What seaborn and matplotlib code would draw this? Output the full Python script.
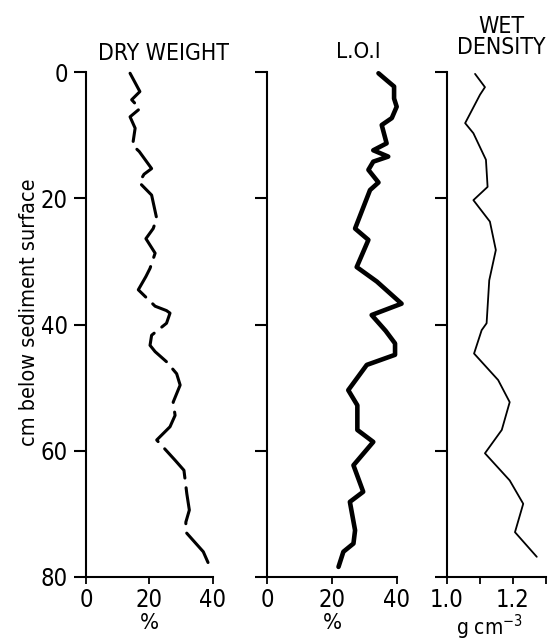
import matplotlib
matplotlib.use("Agg")
import matplotlib.pyplot as plt
import seaborn as sns
import pandas as pd

# ---- data ----
dry_depth = [0.2, 3.1, 4.4, 5.8, 7.1, 8.9, 11.6, 12.6, 15.3, 16.2, 17.5, 19.5, 23.2,
             24.8, 26.4, 28.7, 31.1, 32.4, 34.5, 37.1, 37.8, 38.2, 39.8, 41.7,
             43.3, 44.3, 45.9, 47.8, 49.6, 52.3, 54.4, 56.2, 58.3, 61.5,
             63.1, 66.8, 69.4, 71.3, 72.9, 76.0, 78.4]
dry_pct = [13.9, 17.0, 14.4, 17.0, 13.9, 15.5, 14.7, 16.8, 20.7, 18.3, 16.8, 20.7, 22.3,
           21.2, 18.9, 21.8, 20.2, 18.9, 16.5, 21.8, 25.4, 26.5, 25.4, 20.7,
           20.2, 21.8, 25.4, 28.6, 29.7, 27.5, 28.1, 26.5, 22.3, 28.1,
           30.9, 31.8, 32.6, 31.5, 31.5, 37.0, 39.1]

loi_depth = [0.2, 1.3, 2.3, 4.2, 5.5, 7.3, 8.4, 11.3, 12.4, 13.4, 14.2, 15.5, 17.5,
             18.7, 24.8, 26.6, 30.9, 33.2, 36.7, 38.5, 41.0, 43.0, 44.8, 46.4,
             50.4, 52.8, 56.7, 58.6, 62.3, 66.5, 68.1, 72.6, 74.7, 76.0, 78.4]
loi_pct = [34.3, 36.8, 39.1, 39.1, 39.9, 38.4, 35.3, 36.8, 32.7, 37.3, 32.7, 31.2, 34.3,
           31.7, 27.1, 31.2, 27.6, 33.8, 41.4, 32.2, 36.5, 39.4, 39.4, 30.7,
           25.0, 27.8, 27.8, 32.7, 26.6, 29.6, 25.5, 27.1, 26.6, 23.5, 22.0]

wet_depth = [0.3, 2.4, 3.6, 8.1, 9.7, 13.9, 18.2, 20.3, 23.7, 28.2, 33.0, 39.8,
             40.9, 44.6, 48.8, 52.3, 56.7, 60.4, 64.7, 68.4, 72.9, 76.8]
wet_dens = [1.085, 1.115, 1.100, 1.055, 1.080, 1.118, 1.123, 1.080, 1.130, 1.148, 1.128, 1.120,
            1.105, 1.082, 1.155, 1.190, 1.166, 1.115, 1.190, 1.231, 1.206, 1.272]

depth_ticks = [0, 20, 40, 60, 80]
pct_ticks = [0, 20, 40]
dens_ticks = [1.0, 1.1, 1.2, 1.3]
dens_ticklabels = ["1.0", "", "1.2", ""]

titles = ["DRY WEIGHT", "L.O.I", "WET\nDENSITY"]
units = ["%", "%", r"g cm$^{-3}$"]
ylabel = "cm below sediment surface"

# ---- style ----
sns.set_style("ticks", rc={"text.color": "black", "axes.labelcolor": "black",
                           "xtick.color": "black", "ytick.color": "black",
                           "axes.edgecolor": "black"})
FONT = ["DejaVu Sans", "Liberation Sans"]
plt.rcParams["font.family"] = FONT
plt.rcParams["font.stretch"] = "condensed"
plt.rcParams["mathtext.fontset"] = "dejavusans"

W, H = 551, 643
fig = plt.figure(figsize=(W / 100, H / 100), dpi=100)

y_top, y_bot = 72, 577

def add_ax(x0, px_width):
    return fig.add_axes([x0 / W, 1 - y_bot / H, px_width / W, (y_bot - y_top) / H])

ax1 = add_ax(86, 42 * 3.17)
ax2 = add_ax(267, 42 * 3.25)
ax3 = add_ax(447, 0.3 * 330)

df1 = pd.DataFrame({"depth": dry_depth, "val": dry_pct})
df2 = pd.DataFrame({"depth": loi_depth, "val": loi_pct})
df3 = pd.DataFrame({"depth": wet_depth, "val": wet_dens})

sns.lineplot(data=df1, x="val", y="depth", sort=False, estimator=None, ax=ax1,
             color="black", linewidth=2.2, clip_on=False)
ax1.lines[0].set_dashes((12, 3.2))
ax1.lines[0].set_dash_capstyle("round")
sns.lineplot(data=df2, x="val", y="depth", sort=False, estimator=None, ax=ax2,
             color="black", linewidth=3.3, clip_on=False)
ax2.lines[0].set_solid_joinstyle("round")
sns.lineplot(data=df3, x="val", y="depth", sort=False, estimator=None, ax=ax3,
             color="black", linewidth=1.3, clip_on=False)

for i, ax in enumerate([ax1, ax2, ax3]):
    sns.despine(ax=ax)
    ax.set_ylim(80, 0)
    ax.set_yticks(depth_ticks)
    ax.spines["left"].set_bounds(0, 80)
    ax.spines["left"].set_linewidth(1.5)
    ax.spines["bottom"].set_linewidth(1.5)
    ax.tick_params(axis="y", length=9, width=1.5, direction="out", labelsize=17, pad=4)
    ax.tick_params(axis="x", length=5, width=1.3, direction="out", labelsize=17, pad=3)
    ax.set_ylabel("")
    if i < 2:
        ax.set_xlim(0, 42)
        ax.set_xticks(pct_ticks)
        ax.spines["bottom"].set_bounds(0, 40)
        ax.set_xlabel(units[i], fontsize=16)
        ax.xaxis.set_label_coords(20 / 42, -0.072)
    else:
        ax.set_xlim(1.0, 1.3)
        ax.set_xticks(dens_ticks)
        ax.set_xticklabels(dens_ticklabels)
        ax.spines["bottom"].set_bounds(1.0, 1.3)
        ax.set_xlabel(units[i], fontsize=15)
        ax.xaxis.set_label_coords(0.43, -0.07)
    if i > 0:
        ax.set_yticklabels([])

# titles
fig.text(163 / W, 1 - 60 / H, titles[0], ha="center", va="baseline", fontsize=16.5)
fig.text(358 / W, 1 - 58 / H, titles[1], ha="center", va="baseline", fontsize=16)
fig.text(501 / W, 1 - 54 / H, titles[2], ha="center", va="baseline", fontsize=16.5,
         linespacing=0.9)

fig.text(29 / W, 1 - 312 / H, ylabel, rotation=90, ha="center", va="center", fontsize=15.5)

fig.savefig("out.png", dpi=100, facecolor="white")
